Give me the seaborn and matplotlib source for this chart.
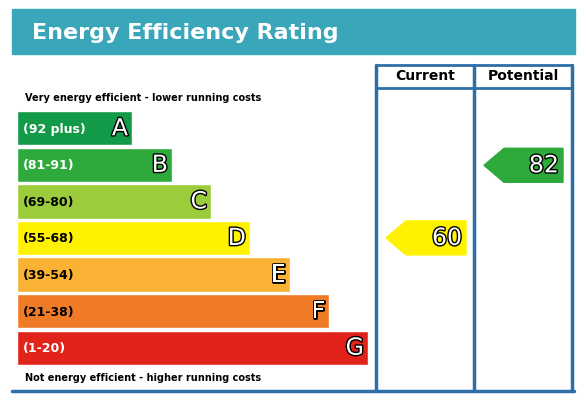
import matplotlib
matplotlib.use("Agg")
import matplotlib.pyplot as plt
import matplotlib.patheffects as pe
from matplotlib.patches import Polygon, Rectangle
import seaborn as sns
import pandas as pd

bands = ["A", "B", "C", "D", "E", "F", "G"]
ranges = ["(92 plus)", "(81-91)", "(69-80)", "(55-68)", "(39-54)", "(21-38)", "(1-20)"]
bar_len = [115, 155, 194, 233, 273, 312, 351]
colors = ["#139a48", "#2eaa3d", "#9ccb3b", "#fff200", "#f9b233", "#ef7b26", "#e2231a"]
current, current_band = 60, 3
potential, potential_band = 82, 1

sns.set_theme(style="white")
plt.rcParams["font.family"] = ["DejaVu Sans"]
fig = plt.figure(figsize=(5.86, 4.06), dpi=100)
W, H = 586, 406

# frame axes in pixel coordinates
ax = fig.add_axes([0, 0, 1, 1])
ax.set_xlim(0, W)
ax.set_ylim(H, 0)
ax.axis("off")
blue = "#2f6fa8"
ax.add_patch(Rectangle((12, 10), 563, 45, color="#3aa6b9"))
ax.text(32, 33, "Energy Efficiency Rating", color="white", fontsize=16, fontweight="bold", va="center")
ax.plot([376, 572], [66, 66], color=blue, lw=2)
ax.plot([376, 572], [89, 89], color=blue, lw=2)
ax.plot([12, 574], [392, 392], color=blue, lw=2.5)
for x in [376, 474, 572]:
    ax.plot([x, x], [66, 392], color=blue, lw=2.5)
ax.text(425, 76, "Current", fontsize=10, fontweight="bold", ha="center", va="center", color="black")
ax.text(523, 76, "Potential", fontsize=10, fontweight="bold", ha="center", va="center", color="black")
ax.text(25, 98, "Very energy efficient - lower running costs", fontsize=7, fontweight="bold", va="center", color="black")
ax.text(25, 378, "Not energy efficient - higher running costs", fontsize=7, fontweight="bold", va="center", color="black")

# bars
bx = fig.add_axes([17 / W, 1 - 367 / H, 359 / W, 256 / H])
df = pd.DataFrame({"band": bands, "len": bar_len})
sns.barplot(data=df, x="len", y="band", hue="band", palette=colors, legend=False,
            width=0.94, saturation=1, ax=bx, orient="h")
bx.set_xlim(0, 359)
bx.axis("off")
outline = [pe.withStroke(linewidth=2, foreground="black")]
for i, (b, r, L) in enumerate(zip(bands, ranges, bar_len)):
    bx.text(6, i, r, fontsize=9, fontweight="bold", va="center",
            color="white" if i in (0, 1, 6) else "black")
    bx.text(L - 4, i, b, fontsize=17, color="white", ha="right", va="center", path_effects=outline)

def arrow(x0, x1, band, val):
    yc = 130 + band * 36.3
    h = 17
    pts = [(x0, yc), (x0 + 20, yc - h), (x1, yc - h), (x1, yc + h), (x0 + 20, yc + h)]
    ax.add_patch(Polygon(pts, color=colors[band]))
    ax.text(x1 - 4, yc, str(val), fontsize=17, color="white", ha="right", va="center", path_effects=outline)

arrow(386, 466, current_band, current)
arrow(484, 563, potential_band, potential)

fig.savefig("out.png", dpi=100)
